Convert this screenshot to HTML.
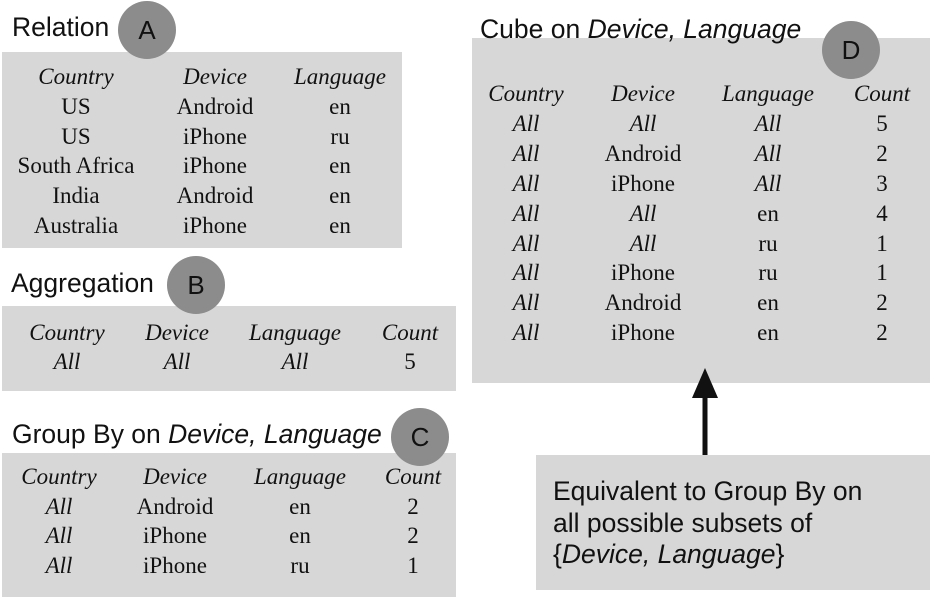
<!DOCTYPE html>
<html><head><meta charset="utf-8">
<style>
body{margin:0;width:934px;height:603px;background:#fff;position:relative;overflow:hidden;font-family:"Liberation Serif",serif;}
.box{position:absolute;background:#d7d7d7;}
.t{position:absolute;width:200px;text-align:center;font-size:23px;line-height:26px;color:#111;white-space:nowrap;z-index:2;}
.i{font-style:italic;}
.title{position:absolute;font-family:"Liberation Sans",sans-serif;font-size:26.5px;color:#111;white-space:nowrap;line-height:30px;z-index:2;}
.circ{position:absolute;width:58px;height:58px;border-radius:50%;background:#8c8c8c;font-family:"Liberation Sans",sans-serif;font-size:26px;color:#111;text-align:center;line-height:58px;z-index:3;}
.note{position:absolute;font-family:"Liberation Sans",sans-serif;font-size:26.5px;color:#111;line-height:31.5px;z-index:2;white-space:nowrap;}
</style></head><body>
<div class="title" style="left:12px;top:12px">Relation</div>
<div class="circ" style="left:118px;top:1px">A</div>
<div class="box" style="left:2px;top:52px;width:400px;height:196px"></div>

<div class="title" style="left:11px;top:268px">Aggregation</div>
<div class="circ" style="left:167px;top:256px">B</div>
<div class="box" style="left:2px;top:306px;width:454px;height:85px"></div>

<div class="title" style="left:12px;top:419px">Group By on <i>Device, Language</i></div>
<div class="circ" style="left:391px;top:408px">C</div>
<div class="box" style="left:2px;top:453px;width:454px;height:144px"></div>

<div class="box" style="left:472px;top:38px;width:458px;height:345px"></div>
<div class="title" style="left:480px;top:14px">Cube on <i>Device, Language</i></div>
<div class="circ" style="left:822px;top:21px">D</div>

<svg style="position:absolute;left:0;top:0" width="934" height="603">
<line x1="705" y1="456" x2="705" y2="395" stroke="#111" stroke-width="5"/>
<polygon points="705,368 692,398 718,398" fill="#111"/>
</svg>
<div class="box" style="left:536px;top:455px;width:394px;height:135px"></div>
<div class="note" style="left:553px;top:476px">Equivalent to Group By on<br>all possible subsets of<br>{<i>Device, Language</i>}</div>

<script>
function tbl(name,cols,y0,dy,rows){
  rows.forEach(function(r,ri){
    r.forEach(function(txt,ci){
      var d=document.createElement('div');
      d.className='t'+(ri===0||txt==='All'?' i':'');
      d.style.left=(cols[ci]-100)+'px';
      d.style.top=(y0+ri*dy-13)+'px';
      d.textContent=txt;
      
      
      document.body.appendChild(d);
    });
  });
}
tbl('relation',[76,215,340],77,29.8,[["Country","Device","Language"],["US","Android","en"],["US","iPhone","ru"],["South Africa","iPhone","en"],["India","Android","en"],["Australia","iPhone","en"]]);
tbl('aggregation',[67,177,295,410],333,29,[["Country","Device","Language","Count"],["All","All","All","5"]]);
tbl('groupby',[59,175,300,413],477,29.6,[["Country","Device","Language","Count"],["All","Android","en","2"],["All","iPhone","en","2"],["All","iPhone","ru","1"]]);
tbl('cube',[526,643,768,882],94,29.9,[["Country","Device","Language","Count"],["All","All","All","5"],["All","Android","All","2"],["All","iPhone","All","3"],["All","All","en","4"],["All","All","ru","1"],["All","iPhone","ru","1"],["All","Android","en","2"],["All","iPhone","en","2"]]);
</script>
</body></html>
